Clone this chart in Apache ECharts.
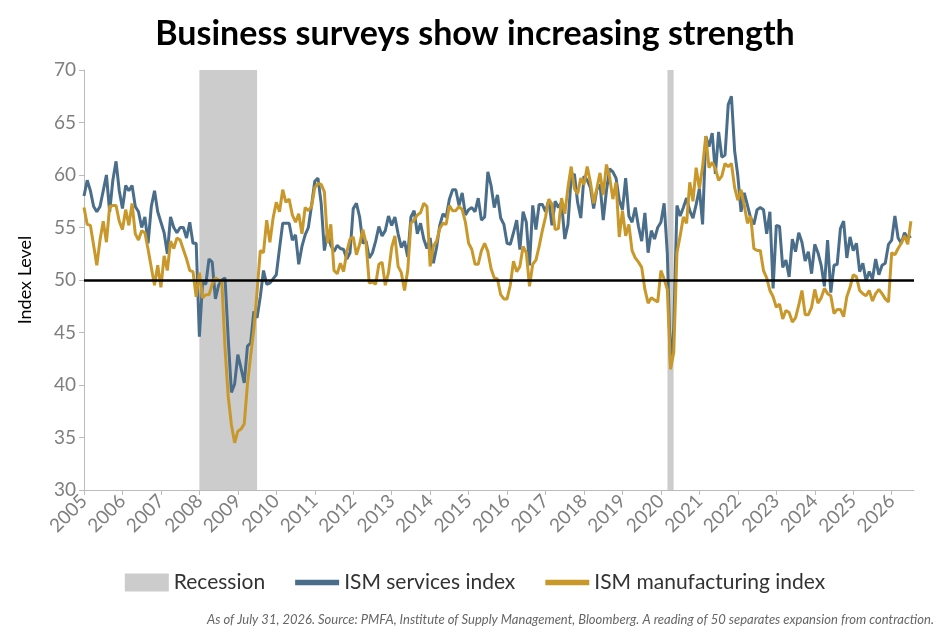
<!DOCTYPE html>
<html><head><meta charset="utf-8">
<script src="https://cdn.jsdelivr.net/npm/echarts@6/dist/echarts.min.js"></script>
<style>body{margin:0}#main{width:950px;height:636px}</style></head>
<body><div id="main"></div>
<script>
// monthly values, Jan 2005 - Jul 2026
var services = [
  58.0,59.5,58.5,57.0,56.5,57.0,58.5,60.0,56.5,59.5,61.3,58.5,
  56.8,59.0,58.5,59.0,57.0,56.5,55.0,56.0,53.5,57.0,58.5,56.5,
  55.5,54.5,52.5,56.0,55.0,54.5,55.0,55.0,54.0,55.5,53.5,53.5,
  44.6,49.8,49.6,52.0,51.7,48.2,49.5,50.0,50.2,44.4,39.3,40.1,
  42.9,41.6,40.2,43.7,44.0,47.0,46.4,48.4,50.9,49.6,49.7,50.1,
  50.5,53.0,55.4,55.4,55.4,53.8,54.3,51.5,53.2,54.3,55.0,57.1,
  59.4,59.7,57.3,52.8,54.6,53.3,52.7,53.3,53.0,52.9,52.0,52.6,
  56.8,57.3,56.0,53.5,53.7,52.1,52.6,53.7,55.1,54.2,54.7,56.1,
  55.2,56.0,54.4,53.1,53.7,52.2,56.0,56.6,54.4,55.4,53.9,53.0,
  54.0,51.6,53.1,55.2,56.3,56.0,57.7,58.6,58.6,57.1,58.3,56.2,
  56.7,56.9,56.5,57.8,55.7,56.0,60.3,59.0,56.9,58.1,55.9,55.3,
  53.5,53.4,54.5,55.7,52.9,56.5,55.5,51.4,57.1,54.8,57.2,57.2,
  56.5,57.6,55.2,57.5,56.9,57.4,53.9,55.3,59.8,60.1,57.4,55.9,
  59.9,59.5,58.8,56.8,58.6,59.1,55.7,58.5,60.6,60.3,59.7,57.6,
  56.7,59.7,56.1,55.5,56.9,55.1,53.7,56.4,52.6,54.7,53.9,55.0,
  55.5,57.3,52.5,41.8,45.4,57.1,56.1,56.9,57.8,56.6,55.9,57.2,
  58.7,55.3,63.7,62.7,64.0,60.1,64.1,61.7,61.9,66.7,67.5,62.3,
  59.9,56.5,58.3,57.1,55.9,55.3,56.7,56.9,56.7,54.4,56.5,49.2,
  55.2,55.1,51.2,51.9,50.3,53.9,52.7,54.5,53.6,51.8,52.7,50.6,
  53.4,52.6,51.4,49.4,53.8,48.8,51.4,51.5,54.9,55.6,52.1,54.1,
  52.8,53.5,50.8,51.6,49.9,50.8,50.1,52.0,50.5,51.4,51.6,53.4,
  53.8,56.1,54.0,53.5,54.5,54.0,54.2
];
var manufacturing = [
  56.9,55.3,55.2,53.3,51.4,53.8,55.6,53.6,57.0,57.1,57.1,55.6,
  54.8,56.7,55.2,57.3,54.4,53.8,54.7,54.5,52.9,51.2,49.5,51.4,
  49.3,52.3,50.9,53.7,53.0,54.0,53.8,52.9,52.0,50.9,50.8,48.4,
  50.7,48.3,48.6,48.6,49.6,50.2,50.0,49.9,43.5,38.9,36.2,34.5,
  35.6,35.8,36.3,40.1,42.8,45.3,48.9,52.8,52.6,55.7,53.6,55.9,
  57.4,56.5,58.6,57.4,57.7,56.2,55.5,56.3,54.4,56.9,56.6,57.0,
  58.8,59.2,59.1,58.4,53.5,55.3,50.9,50.6,51.6,50.8,52.7,53.9,
  54.1,52.4,53.4,54.8,53.5,49.7,49.8,49.6,51.5,51.7,49.5,50.7,
  53.1,54.2,51.3,50.7,49.0,50.9,55.4,55.7,56.2,56.4,57.3,57.0,
  51.3,53.2,53.7,54.9,55.4,55.3,57.1,56.6,56.6,57.0,56.7,55.5,
  53.5,52.9,51.5,51.5,52.8,53.5,52.7,51.1,50.2,50.1,48.6,48.2,
  48.2,49.5,51.8,50.8,51.3,53.2,52.6,49.4,51.5,51.9,53.2,54.7,
  56.0,57.7,57.2,54.8,54.9,57.8,56.3,58.8,60.8,58.7,58.2,59.7,
  59.1,60.8,59.3,57.3,58.7,60.2,58.1,61.0,59.8,57.7,59.3,54.1,
  56.6,54.2,55.3,52.8,52.1,51.7,51.2,49.1,47.8,48.3,48.1,47.9,
  50.9,50.1,49.1,41.5,43.1,52.6,54.2,56.0,55.4,59.3,57.5,60.7,
  58.7,60.8,63.7,60.7,61.2,60.6,59.5,59.9,61.1,60.8,61.1,58.8,
  57.6,58.6,57.1,55.4,56.1,53.0,52.8,52.8,50.9,50.2,49.0,48.4,
  47.4,47.7,46.3,47.1,46.9,46.0,46.4,47.6,49.0,46.7,46.7,47.4,
  49.1,47.8,48.3,49.2,48.7,48.5,46.8,47.2,47.2,46.5,48.4,49.3,
  50.5,50.3,49.0,48.7,48.5,49.0,48.0,48.7,49.1,48.7,48.2,47.9,
  52.6,52.4,53.0,53.5,54.2,53.4,55.6
];
var recessions = [[2008.0, 2009.5], [2020.17, 2020.33]];
var startYear = 2005;

function toPoints(arr) {
  return arr.map(function (v, i) { return [startYear + i / 12, v]; });
}

var myChart = echarts.init(document.getElementById('main'));
var grey = '#7f7f7f';
var lineIcon = 'path://M0,0h40v5h-40z';
myChart.setOption({
  animation: false,
  title: {
    text: 'Business surveys show increasing strength', left: 'center', top: 12,
    textStyle: { fontFamily: 'Lato', fontSize: 34, fontWeight: 'bold', color: '#000' }
  },
  legend: {
    bottom: 38, left: 'center', itemGap: 30, itemWidth: 44, itemHeight: 18,
    textStyle: { fontFamily: 'Lato', fontSize: 21, color: '#333' },
    data: [
      { name: 'Recession', icon: 'rect', itemStyle: { color: '#cccccc' } },
      { name: 'ISM services index', icon: lineIcon, itemStyle: { color: '#4a6e8a' } },
      { name: 'ISM manufacturing index', icon: lineIcon, itemStyle: { color: '#c9982b' } }
    ]
  },
  graphic: [{
    type: 'text', right: 16, bottom: 10,
    style: { text: 'As of July 31, 2026. Source: PMFA, Institute of Supply Management, Bloomberg. A reading of 50 separates expansion from contraction.',
      font: 'italic 13px Lato', fill: '#666' }
  }],
  grid: { left: 84, right: 36, top: 70, bottom: 146 },
  xAxis: {
    type: 'value', min: 2005, max: 2026.58, interval: 1,
    splitLine: { show: false },
    axisLine: { lineStyle: { color: '#bbb' } },
    axisTick: { show: true, lineStyle: { color: '#bbb' } },
    axisLabel: { rotate: 45, color: grey, fontFamily: 'Lato', fontSize: 19, showMaxLabel: false,
      formatter: function (v) { return String(Math.round(v)); } }
  },
  yAxis: {
    type: 'value', min: 30, max: 70, interval: 5,
    name: 'Index Level', nameLocation: 'middle', nameGap: 50,
    nameTextStyle: { fontFamily: 'Lato', fontSize: 18, color: '#000' },
    splitLine: { show: false },
    axisLine: { show: true, lineStyle: { color: '#bbb' } },
    axisTick: { show: true, lineStyle: { color: '#bbb' } },
    axisLabel: { color: grey, fontFamily: 'Lato', fontSize: 19 }
  },
  series: [
    {
      name: 'Recession', type: 'line', data: [], itemStyle: { color: '#cccccc' },
      markArea: { silent: true, itemStyle: { color: '#cccccc' },
        data: recessions.map(function (r) { return [{ xAxis: r[0] }, { xAxis: r[1] }]; }) }
    },
    {
      name: 'ISM services index', type: 'line', showSymbol: false, data: toPoints(services),
      lineStyle: { color: '#4a6e8a', width: 3 }, itemStyle: { color: '#4a6e8a' }
    },
    {
      name: 'ISM manufacturing index', type: 'line', showSymbol: false, data: toPoints(manufacturing),
      lineStyle: { color: '#c9982b', width: 3 }, itemStyle: { color: '#c9982b' },
      markLine: { silent: true, symbol: 'none', label: { show: false },
        lineStyle: { color: '#000', width: 2.5, type: 'solid' }, data: [{ yAxis: 50 }] }
    }
  ]
});
</script></body></html>
